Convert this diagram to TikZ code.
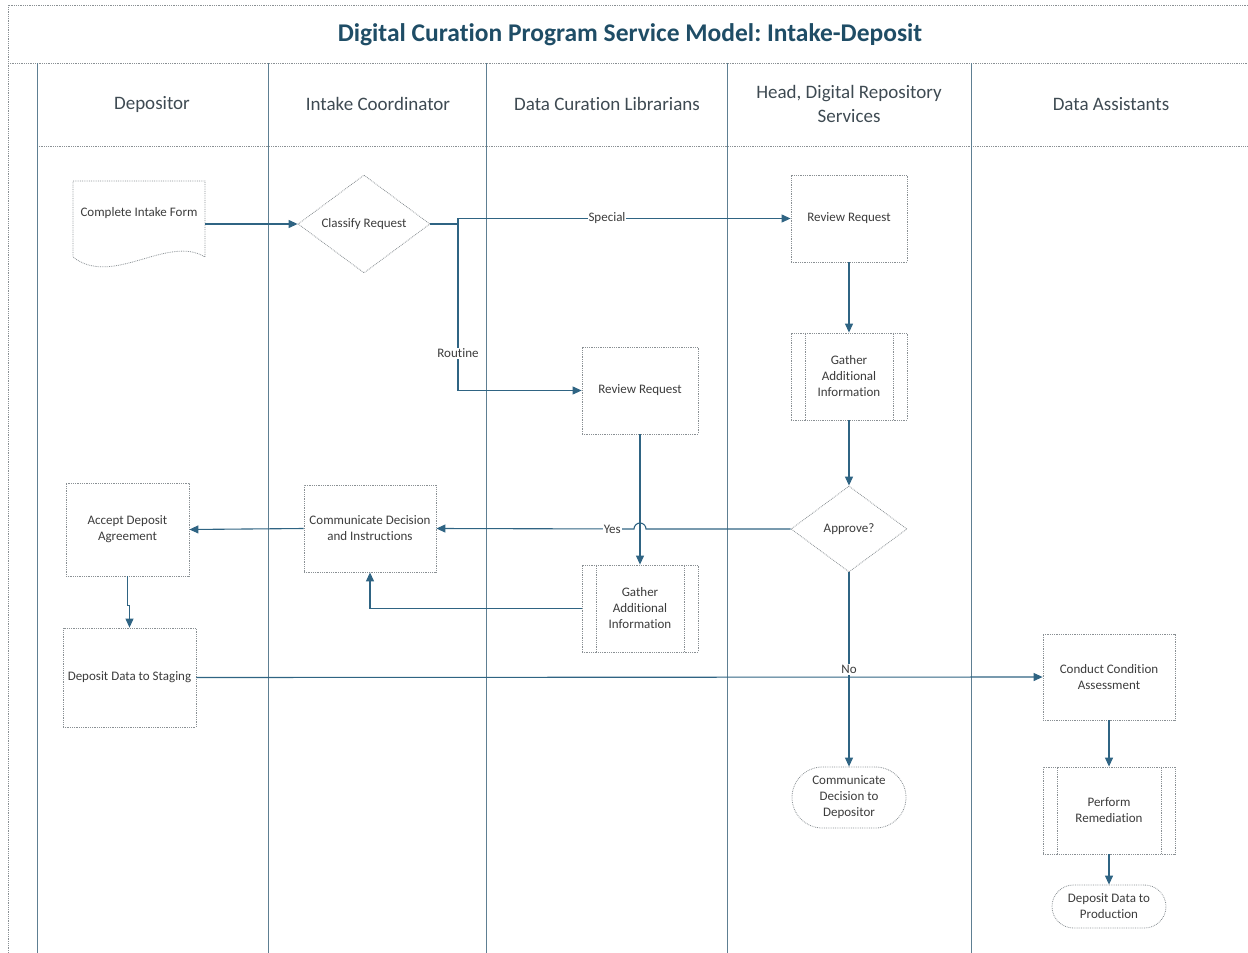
\documentclass[tikz,border=0pt]{standalone}
\usepackage{fontspec}
\setmainfont{Carlito}[Ligatures=NoCommon]
\usetikzlibrary{arrows.meta,shapes.geometric,shapes.misc,calc}
\frenchspacing
\definecolor{flowc}{HTML}{2F6483}
\definecolor{lanec}{HTML}{5E7F92}
\definecolor{boxc}{HTML}{8A9094}
\definecolor{txtc}{HTML}{3C3C3C}
\definecolor{headc}{HTML}{3E4A52}
\definecolor{titlec}{HTML}{1F4D66}
\tikzset{
  lane/.style={draw=lanec, line width=0.9pt},
  sep/.style={draw=boxc, densely dotted, line width=0.8pt},
  title/.style={text=titlec, font=\bfseries\fontsize{25.5}{30}\selectfont},
  head/.style={text=headc, align=center, font=\fontsize{19}{24}\selectfont},
  txt/.style={text=txtc, align=center, font=\fontsize{13}{16}\selectfont},
  box/.style={sep, fill=white, txt, inner sep=1pt,
    minimum width=116pt, minimum height=87pt},
  dec/.style={box, diamond, inner sep=0pt},
  term/.style={box, rounded rectangle, minimum height=61pt},
  flow/.style={draw=flowc, line width=1.1pt, -{Triangle[length=9pt,width=8pt]}},
  lbl/.style={txt, fill=white, inner sep=1pt}
}
\begin{document}
\begin{tikzpicture}[x=1pt,y=-1pt]
  \useasboundingbox (0,0) rectangle (1248,953);
  % pool and lanes
  \draw[sep] (1248,5) -- (8,5) -- (8,953);
  \draw[sep] (8,63) -- (1248,63);
  \draw[sep] (37,146) -- (1248,146);
  \foreach \x in {37,268,486,727,971}
    \draw[lane] (\x,63) -- (\x,953);
  \node[title] (ttl) at (630,35) {Digital Curation Program Service Model: Intake-Deposit};
  \node[head] (hdep) at (152,104) {Depositor};
  \node[head] (hic) at (378,104) {Intake Coordinator};
  \node[head] (hdcl) at (607,104) {Data Curation Librarians};
  \node[head] (hhead) at (849,104) {Head, Digital Repository\\Services};
  \node[head] (hda) at (1111,104) {Data Assistants};

  % document shape
  \draw[sep, fill=white] (73,181) -- (205,181) -- (205,257)
    .. controls (168,234) and (112,288) .. (73,257) -- cycle;
  \node[minimum width=132pt, minimum height=87pt, inner sep=0pt,
    label={[txt, yshift=11pt]center:Complete Intake Form}] (form) at (139,224) {};
  \node[dec, minimum width=132pt, minimum height=98pt] (cls) at (364,224) {Classify Request};
  \node[box] (rrh) at (849,218.5) {Review Request};
  \node[box] (gah) at (849,376.5) {Gather\\Additional\\Information};
  \node[dec, minimum height=86pt] (apv) at (849,529) {Approve?};
  \node[box] (rrl) at (640,390.5) {Review Request};
  \node[box] (gal) at (640,608.5) {Gather\\Additional\\Information};
  \node[box, minimum width=132pt] (cdi) at (370,528.5) {Communicate Decision\\and Instructions};
  \node[box, minimum width=123pt, minimum height=93pt] (acc) at (127.5,529.5) {Accept Deposit\\Agreement};
  \node[box, minimum width=133pt, minimum height=99pt] (stg) at (129.5,677.5) {Deposit Data to Staging};
  \node[box, minimum width=132pt, minimum height=86pt] (cca) at (1109,677) {Conduct Condition\\Assessment};
  \node[box, minimum width=132pt] (rem) at (1109,810.5) {Perform\\Remediation};
  \node[term] (cdd) at (849,797.5) {Communicate\\Decision to\\Depositor};
  \node[term, minimum height=43pt] (ddp) at (1109,906.5) {Deposit Data to\\Production};
  \foreach \n in {gah,gal,rem}{
    \draw[sep] ([xshift=14.5pt]\n.north west) -- ([xshift=14.5pt]\n.south west);
    \draw[sep] ([xshift=-14.5pt]\n.north east) -- ([xshift=-14.5pt]\n.south east);
  }

  % flows
  \coordinate (br) at (458,224);
  \draw[flow] (form.east) -- (cls.west);
  \draw[flow] (cls.east) -- (br) |- node[lbl, pos=0.724] {Special} (rrh.west);
  \draw[flow] (br) |- node[lbl, pos=0.389] {Routine} (rrl.west);
  \draw[flow] (rrh) -- (gah);
  \draw[flow] (gah) -- (apv);
  \draw[flow] (rrl) -- (gal);
  \coordinate (hop) at (rrl |- apv.west);
  \draw[flow] (apv.west) -- ([xshift=6pt]hop) arc[start angle=0, end angle=180, radius=6pt]
    -- node[lbl, pos=0.11] {Yes} (cdi.east);
  \draw[flow] (gal.west) -| (cdi.south);
  \draw[flow] (cdi.west) -- (acc.east);
  \draw[flow] (acc.south) -- ++(0,29) -| (stg.north);
  \draw[flow] (stg.east) -- (cca.west);
  \draw[flow] (apv.south) -- node[lbl, pos=0.5] {No} (cdd.north);
  \draw[flow] (cca) -- (rem);
  \draw[flow] (rem) -- (ddp);
\end{tikzpicture}
\end{document}
